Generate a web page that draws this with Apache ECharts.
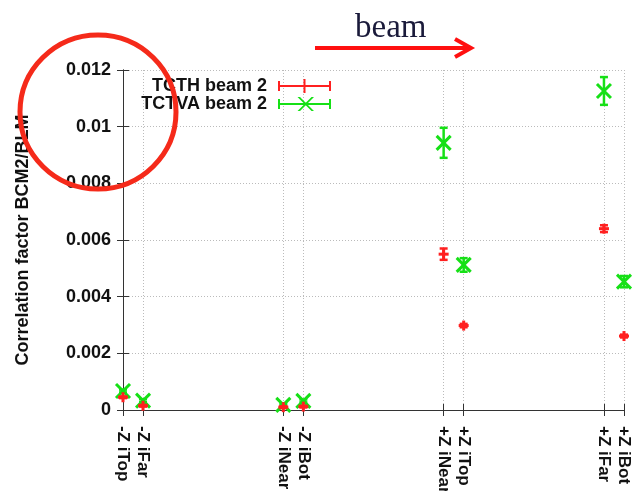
<!DOCTYPE html>
<html>
<head>
  <meta charset="utf-8">
  <style>
    html, body { margin: 0; padding: 0; width: 100%; height: 100%; overflow: hidden; background: #fff; }
  </style>
  <script src="https://cdn.jsdelivr.net/npm/echarts@6/dist/echarts.min.js"></script>
</head>
<body>
  <div id="container" style="width: 633px; height: 491px;"></div>
  <script>
    // positions of the detectors along x and their names
    const tickPos = [0, 1, 8, 9, 16, 17, 24, 25];
    const tickLabels = ['-Z iTop', '-Z iFar', '-Z iNear', '-Z iBot', '+Z iNear', '+Z iTop', '+Z iFar', '+Z iBot'];

    // TCTH beam 2
    const tcthValues = [0.00045, 0.00015, 0.0001, 0.00012, 0.0055, 0.00298, 0.0064, 0.00261];
    const tcthErrors = [0.00003, 0.00003, 0.00003, 0.00003, 0.0002, 0.00006, 0.00012, 0.00005];
    // TCTVA beam 2
    const tctvaValues = [0.00067, 0.00033, 0.00018, 0.00032, 0.00943, 0.00512, 0.01126, 0.00453];
    const tctvaErrors = [0.00005, 0.00005, 0.00004, 0.00005, 0.00053, 0.00024, 0.00049, 0.0002];

    const toRows = (vals, errs) => vals.map((v, i) => [tickPos[i], v, errs[i]]);

    var dom = document.getElementById('container');
    var myChart = echarts.init(dom, null, { renderer: 'canvas' });

    function errorBar(marker, half) {
      return function (params, api) {
        const x = api.value(0), y = api.value(1), e = api.value(2);
        const c = api.coord([x, y]);
        const lo = api.coord([x, y - e]);
        const hi = api.coord([x, y + e]);
        const style = { stroke: api.visual('color'), lineWidth: 2.5 };
        const children = [
          { type: 'line', shape: { x1: c[0], y1: lo[1], x2: c[0], y2: hi[1] }, style },
          { type: 'line', shape: { x1: c[0] - 4, y1: lo[1], x2: c[0] + 4, y2: lo[1] }, style },
          { type: 'line', shape: { x1: c[0] - 4, y1: hi[1], x2: c[0] + 4, y2: hi[1] }, style }
        ];
        const s = { stroke: api.visual('color'), lineWidth: 3 };
        if (marker === 'plus') {
          children.push({ type: 'line', shape: { x1: c[0] - half, y1: c[1], x2: c[0] + half, y2: c[1] }, style: s });
          children.push({ type: 'line', shape: { x1: c[0], y1: c[1] - half, x2: c[0], y2: c[1] + half }, style: s });
        } else {
          children.push({ type: 'line', shape: { x1: c[0] - half, y1: c[1] - half, x2: c[0] + half, y2: c[1] + half }, style: s });
          children.push({ type: 'line', shape: { x1: c[0] - half, y1: c[1] + half, x2: c[0] + half, y2: c[1] - half }, style: s });
        }
        return { type: 'group', children };
      };
    }

    // legend samples: line with end caps and the point marker
    const plusIcon = 'path://M0,6h53v2h-53Z M0,2h2v10h-2Z M51,2h2v10h-2Z M25.5,0h2v14h-2Z';
    const crossIcon = 'path://M0,6h53v2h-53Z M0,2h2v10h-2Z M51,2h2v10h-2Z M19.5,0L22,0L36,14L33.5,14Z M33.5,0L36,0L22,14L19.5,14Z';

    const labelFont = { fontFamily: 'Liberation Sans', fontWeight: 'bold', color: '#111' };

    var option = {
      animation: false,
      grid: { left: 123, right: 9, top: 70, bottom: 81, outerBoundsMode: 'none', containLabel: false },
      legend: [
        {
          data: [{ name: 'TCTH beam 2', icon: plusIcon }],
          right: 297, top: 72, align: 'right', itemWidth: 53, itemHeight: 14,
          textStyle: Object.assign({ fontSize: 18, padding: [0, 6, 0, 0] }, labelFont)
        },
        {
          data: [{ name: 'TCTVA beam 2', icon: crossIcon }],
          right: 297, top: 90, align: 'right', itemWidth: 53, itemHeight: 14,
          textStyle: Object.assign({ fontSize: 18, padding: [0, 6, 0, 0] }, labelFont)
        }
      ],
      xAxis: [
        {
          type: 'value', min: 0, max: 25, position: 'bottom',
          axisLine: { lineStyle: { color: '#333', width: 1 } },
          axisTick: { inside: true, length: 6, customValues: tickPos, lineStyle: { color: '#333' } },
          axisLabel: Object.assign({
            customValues: tickPos, rotate: -90, margin: 16, fontSize: 17,
            formatter: (v) => tickLabels[tickPos.indexOf(v)]
          }, labelFont),
          splitLine: { show: true, lineStyle: { type: [1, 2], color: '#bbb' } }
        },
        {
          type: 'value', min: 0, max: 25, position: 'top',
          axisLine: { lineStyle: { color: '#333', width: 1 } },
          axisTick: { inside: true, length: 6, customValues: tickPos, lineStyle: { color: '#333' } },
          axisLabel: { show: false },
          splitLine: { show: false }
        }
      ],
      yAxis: [
        {
          type: 'value', min: 0, max: 0.012, interval: 0.002, position: 'left',
          name: 'Correlation factor BCM2/BLM', nameLocation: 'middle', nameGap: 91,
          nameTextStyle: Object.assign({ fontSize: 18 }, labelFont),
          axisLine: { show: true, lineStyle: { color: '#333', width: 1 } },
          axisTick: { inside: true, length: 6, lineStyle: { color: '#333' } },
          axisLabel: Object.assign({ fontSize: 18, margin: 12 }, labelFont),
          splitLine: { show: true, lineStyle: { type: [1, 2], color: '#bbb' } }
        },
        {
          type: 'value', min: 0, max: 0.012, interval: 0.002, position: 'right',
          axisLine: { show: true, lineStyle: { color: '#333', width: 1 } },
          axisTick: { show: true, inside: true, length: 6, lineStyle: { color: '#333' } },
          axisLabel: { show: false },
          splitLine: { show: false }
        }
      ],
      series: [
        {
          name: 'TCTH beam 2', type: 'custom', clip: false,
          itemStyle: { color: '#ff2020' },
          encode: { x: 0, y: 1 },
          renderItem: errorBar('plus', 5),
          data: toRows(tcthValues, tcthErrors), z: 3
        },
        {
          name: 'TCTVA beam 2', type: 'custom', clip: false,
          itemStyle: { color: '#16e016' },
          encode: { x: 0, y: 1 },
          renderItem: errorBar('cross', 7),
          data: toRows(tctvaValues, tctvaErrors), z: 2
        }
      ],
      graphic: [
        {
          type: 'ellipse', z: 100, silent: true,
          shape: { cx: 98, cy: 112, rx: 78, ry: 77 },
          style: { fill: null, stroke: '#f52a1a', lineWidth: 5 }
        },
        {
          type: 'polyline', z: 100, silent: true,
          shape: { points: [[315, 48], [470, 48]] },
          style: { stroke: '#ff1010', lineWidth: 4, fill: null }
        },
        {
          type: 'polyline', z: 100, silent: true,
          shape: { points: [[455, 39], [471, 48], [455, 57]] },
          style: { stroke: '#ff1010', lineWidth: 4, fill: null, lineJoin: 'miter' }
        },
        {
          type: 'text', z: 100, silent: true, left: 355, top: 12,
          style: { text: 'beam', font: '33px "Liberation Serif"', fill: '#1a1a3a' }
        }
      ]
    };
    myChart.setOption(option);
  </script>
</body>
</html>
